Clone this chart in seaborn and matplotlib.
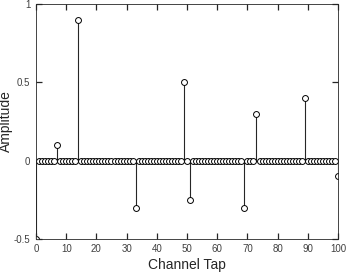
import numpy as np
import pandas as pd
import matplotlib
matplotlib.use("Agg")
import matplotlib.pyplot as plt
import seaborn as sns

# Data
taps = list(range(0, 101))
nonzero_taps = [0, 7, 14, 33, 49, 51, 69, 73, 89, 100]
nonzero_values = [-0.5, 0.1, 0.9, -0.3, 0.5, -0.25, -0.3, 0.3, 0.4, -0.1]
amplitude = [0.0] * len(taps)
for t, v in zip(nonzero_taps, nonzero_values):
    amplitude[t] = v
df = pd.DataFrame({"tap": taps, "amp": amplitude})

xticks = [0, 10, 20, 30, 40, 50, 60, 70, 80, 90, 100]
yticks = [-0.5, 0, 0.5, 1]
yticklabels = ["-0.5", "0", "0.5", "1"]

plt.rcParams.update({
    "font.family": ["Liberation Sans", "DejaVu Sans"],
    "xtick.direction": "in", "ytick.direction": "in",
    "xtick.top": True, "ytick.right": True,
    "xtick.major.size": 4, "ytick.major.size": 4,
    "xtick.major.width": 0.9, "ytick.major.width": 0.9,
})

fig = plt.figure(figsize=(3.46, 2.74), dpi=100)
ax = fig.add_axes([0.104, 0.128, 0.873, 0.857])

ax.vlines(df["tap"], 0, df["amp"], colors="#262626", linewidth=0.8, zorder=1)
sns.scatterplot(data=df, x="tap", y="amp", ax=ax, marker="o", s=18,
                facecolor="white", edgecolor="#000000", linewidth=0.7, zorder=2)

ax.set_xlim(0, 100)
ax.set_ylim(-0.5, 1)
ax.set_xticks(xticks)
ax.set_xticklabels([str(t) for t in xticks])
ax.set_yticks(yticks)
ax.set_yticklabels(yticklabels)
ax.tick_params(which="major", color="#262626", labelsize=7,
               labelcolor="#404040", pad=4)
for s in ax.spines.values():
    s.set_color("#262626")
    s.set_linewidth(0.6)
ax.set_xlabel("Channel Tap", fontsize=10, color="#262626")
ax.set_ylabel("Amplitude", fontsize=10, color="#262626")
ax.yaxis.set_label_coords(-0.075, 0.5)
ax.xaxis.set_label_coords(0.5, -0.08)

fig.savefig("out.png", dpi=100)
